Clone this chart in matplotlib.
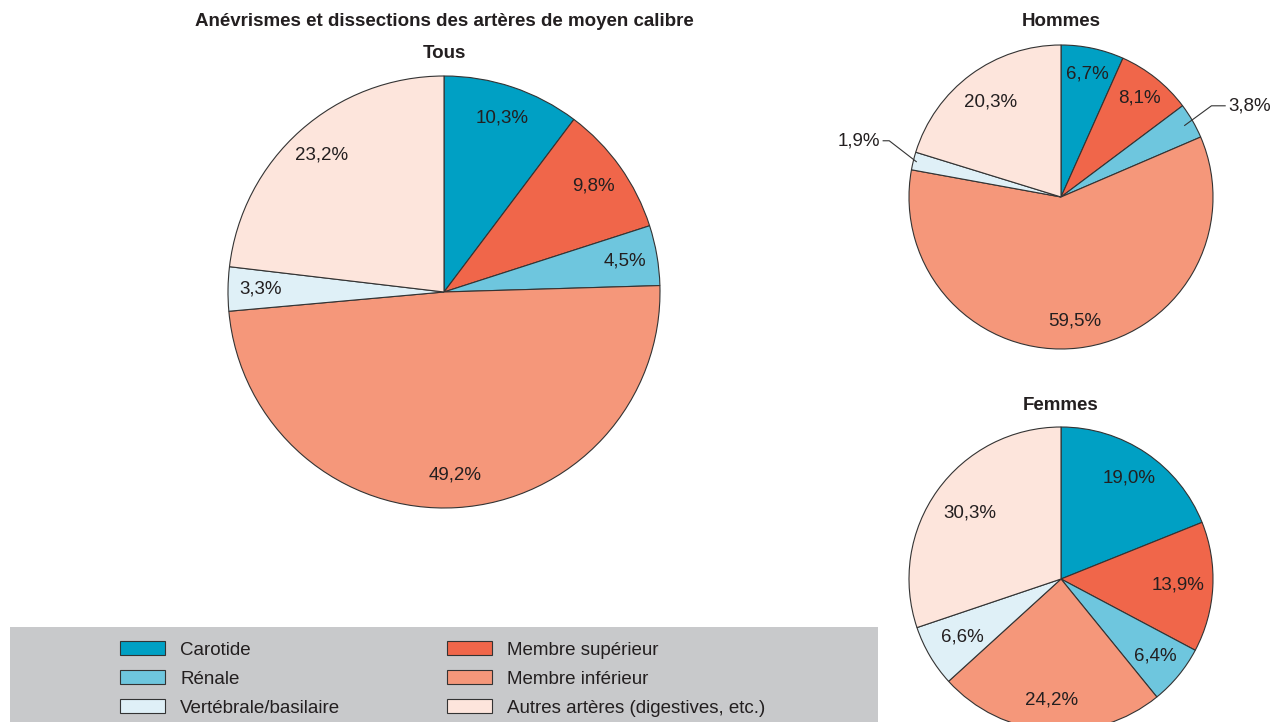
import numpy as np
import matplotlib
matplotlib.use("Agg")
import matplotlib.pyplot as plt
from matplotlib import font_manager
from matplotlib.patches import Patch, Rectangle

# data
categories = ["Carotide", "Membre supérieur", "Rénale", "Membre inférieur",
              "Vertébrale/basilaire", "Autres artères (digestives, etc.)"]
tous = [10.3, 9.8, 4.5, 49.2, 3.3, 23.2]
hommes = [6.7, 8.1, 3.8, 59.5, 1.9, 20.3]
femmes = [19.0, 13.9, 6.4, 24.2, 6.6, 30.3]

colors = ["#00a0c4", "#f0664a", "#6ec6de", "#f5977a", "#dff0f7", "#fde5dc"]
TXT = "#231f20"

names = {f.name for f in font_manager.fontManager.ttflist}
fam = "Liberation Sans Narrow" if "Liberation Sans Narrow" in names else "Liberation Sans"
plt.rcParams["font.family"] = [fam, "DejaVu Sans"]
plt.rcParams["text.color"] = TXT

W, H = 1284, 722
fig = plt.figure(figsize=(W / 100, H / 100), dpi=100)


def pie_axes(cx, cy, r):
    ax = fig.add_axes([(cx - r) / W, (H - cy - r) / H, 2 * r / W, 2 * r / H])
    ax.axis("off")
    return ax


def fmt(v):
    return f"{v:.1f}".replace(".", ",") + "%"


def draw_pie(ax, values, lab_r, skip=()):
    wedges, _ = ax.pie(values, colors=colors, startangle=90, counterclock=False,
                       radius=1, wedgeprops=dict(edgecolor="#333333", linewidth=0.8))
    ax.set_xlim(-1, 1)
    ax.set_ylim(-1, 1)
    mids = []
    for i, w in enumerate(wedges):
        a = np.deg2rad((w.theta1 + w.theta2) / 2)
        mids.append(a)
        if i in skip:
            continue
        r = lab_r[i] if isinstance(lab_r, list) else lab_r
        ax.text(r * np.cos(a), r * np.sin(a), fmt(values[i]), ha="center",
                va="center", fontsize=13.5)
    return mids


# Tous
ax1 = pie_axes(444, 292, 216)
draw_pie(ax1, tous, 0.85)

# Hommes
ax2 = pie_axes(1061, 197, 152)
mids = draw_pie(ax2, hommes, [0.83, 0.83, 0.8, 0.82, 0.8, 0.78], skip=(2, 4))
a = mids[2]
p0 = (0.94 * np.cos(a), 0.94 * np.sin(a))
ax2.plot([p0[0], 0.99, 1.08], [p0[1], 0.60, 0.60], color="#333333", lw=0.8, clip_on=False)
ax2.text(1.10, 0.60, fmt(hommes[2]), ha="left", va="center", fontsize=13.5)
a = mids[4]
p0 = (0.98 * np.cos(a), 0.98 * np.sin(a))
ax2.plot([p0[0], -1.13, -1.17], [p0[1], 0.37, 0.37], color="#333333", lw=0.8, clip_on=False)
ax2.text(-1.19, 0.37, fmt(hommes[4]), ha="right", va="center", fontsize=13.5)

# Femmes
ax3 = pie_axes(1061, 579, 152)
draw_pie(ax3, femmes, [0.8, 0.77, 0.8, 0.8, 0.75, 0.74])

# titles
fig.text(444 / W, 1 - 22 / H, "Anévrismes et dissections des artères de moyen calibre",
         ha="center", va="center", fontsize=13.5, fontweight="bold")
fig.text(444 / W, 1 - 54 / H, "Tous", ha="center", va="center", fontsize=13.5, fontweight="bold")
fig.text(1061 / W, 1 - 22 / H, "Hommes", ha="center", va="center", fontsize=13.5, fontweight="bold")
fig.text(1061 / W, 1 - 405 / H, "Femmes", ha="center", va="center", fontsize=13.5, fontweight="bold")

# legend
fig.patches.append(Rectangle((10 / W, 0), 868 / W, 95 / H, transform=fig.transFigure,
                             facecolor="#c8c9cb", edgecolor="none", zorder=0))
order = [0, 2, 4, 1, 3, 5]
handles = [Patch(facecolor=colors[i], edgecolor="#333333", linewidth=0.8) for i in order]
labels = [categories[i] for i in order]
fig.legend(handles, labels, ncol=2, loc="upper left", bbox_to_anchor=(120 / W, 1 - 641 / H),
           frameon=False, fontsize=13.5, borderpad=0, borderaxespad=0, handlelength=2.4,
           handleheight=0.8, handletextpad=0.8, labelspacing=0.6, columnspacing=5.7)

fig.savefig("out.png", dpi=100)
